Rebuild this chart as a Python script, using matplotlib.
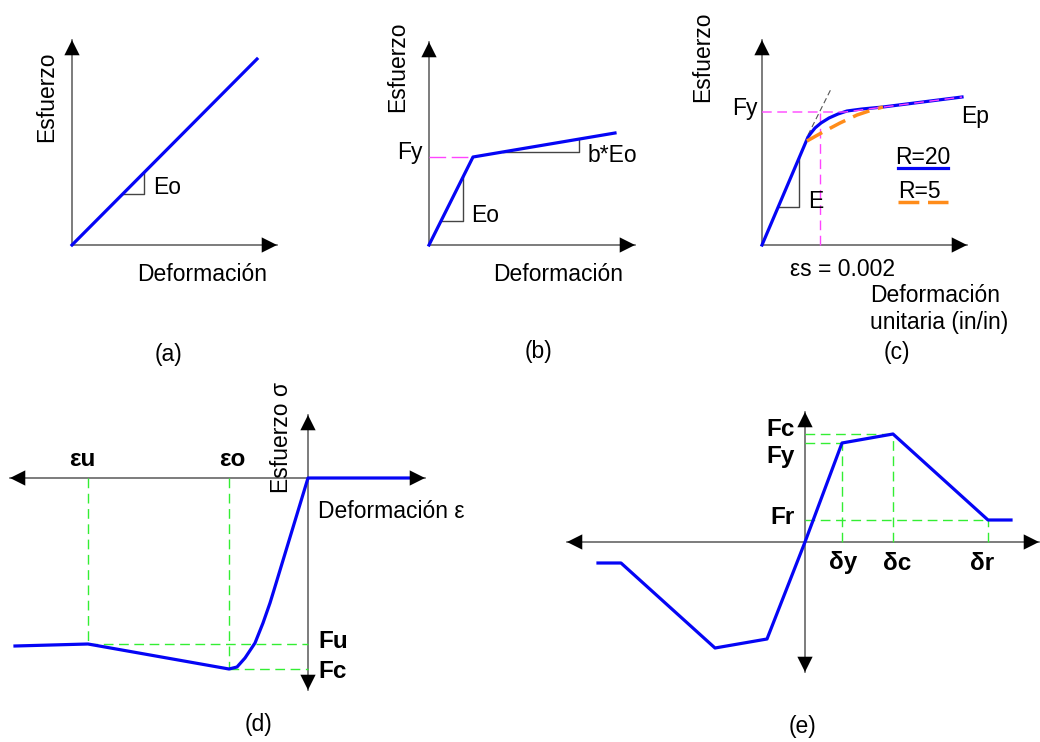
import matplotlib
matplotlib.use("Agg")
import matplotlib.pyplot as plt

plt.rcParams['font.family'] = ['Liberation Sans', 'DejaVu Sans']

W, H = 1040, 742
BLUE = '#0505f5'
GREEN = '#33ee33'
MAGENTA = '#ff44ff'
ORANGE = '#ff8c1a'
AXC = '#666666'
FS = 16.5
FSB = 17.5

# ---- panel (a): linear elastic
a_x = [0, 185]
a_y = [0, 186]
a_tri_x = [51, 72, 72]
a_tri_y = [51, 51, 72]

# ---- panel (b): bilinear
b_x = [0, 44, 186]
b_y = [0, 88, 112]
b_fy_x = [0, 44]
b_fy_y = [88, 88]
b_tri1_x = [12, 34, 34]
b_tri1_y = [24, 24, 68]
b_tri2_x = [74, 150, 150]
b_tri2_y = [93, 93, 106]

# ---- panel (c): Menegotto-Pinto, R=20 and R=5
c_r20_x = [0, 46, 49, 53, 59, 67, 76, 85, 100, 121, 200]
c_r20_y = [0, 108, 112, 117, 122, 127, 131, 134, 136, 138, 148]
c_r5_x = [45, 61, 78, 95, 110, 121]
c_r5_y = [104, 113, 122, 130, 135, 138]
c_env_x = [0, 83, 200]
c_env_y = [133, 133, 148]
c_eps_x = [58, 58]
c_eps_y = [0, 133]
c_tan_x = [46, 69]
c_tan_y = [110, 156]
c_tri_x = [16, 37, 37]
c_tri_y = [38, 38, 87]

# ---- panel (d): concrete
d_x = [-293, -220, -79, -71, -63, -53, -45, -38, -34, 0, 105]
d_y = [-168, -166, -191, -189, -180, -165, -145, -125, -112, 0, 0]
d_eu, d_eo = -220, -79
d_fu, d_fc = -166, -191

# ---- panel (e): backbone
e_x = [-207, -184, -90, -38, 0, 37, 88, 183, 206]
e_y = [-21, -21, -106, -97, 0, 99, 108, 22, 22]
e_dy, e_dc, e_dr = 37, 88, 183
e_fy, e_fc, e_fr = 99, 108, 22

# layout: origin in pixels and axis extents (left, right, bottom, top)
layout = {
    'a': dict(origin=(72, 245), ext=(0, 205, 0, 205)),
    'b': dict(origin=(429, 245), ext=(0, 206, 0, 203)),
    'c': dict(origin=(762, 245), ext=(0, 205, 0, 205)),
    'd': dict(origin=(308, 478), ext=(-298, 117, -212, 63)),
    'e': dict(origin=(805, 542), ext=(-238, 234, -130, 130)),
}

fig = plt.figure(figsize=(W / 100, H / 100), dpi=100)


def panel(key):
    ox, oy = layout[key]['origin']
    ax = fig.add_axes([0, 0, 1, 1])
    ax.set_xlim(-ox, W - ox)
    ax.set_ylim(oy - H, oy)
    ax.axis('off')
    l, r, b, t = layout[key]['ext']
    ax.plot([l, r], [0, 0], color=AXC, lw=1.2, zorder=1)
    ax.plot([0, 0], [b, t], color=AXC, lw=1.2, zorder=1)
    ends = [((r, 0), (r - 1, 0)), ((0, t), (0, t - 1))]
    if l < 0:
        ends.append(((l, 0), (l + 1, 0)))
    if b < 0:
        ends.append(((0, b), (0, b + 1)))
    for tip, tail in ends:
        ax.annotate('', xy=tip, xytext=tail,
                    arrowprops=dict(arrowstyle='-|>,head_length=1.0,head_width=0.5',
                                    mutation_scale=11, color='k', lw=0,
                                    shrinkA=0, shrinkB=0), zorder=5)
    return ax


def gdash(ax, xs, ys):
    ax.plot(xs, ys, color=GREEN, lw=1, dashes=(7, 4), zorder=2)


# (a)
ax = panel('a')
ax.plot(a_x, a_y, color=BLUE, lw=2.3, zorder=3)
ax.plot(a_tri_x, a_tri_y, color='#444444', lw=1, zorder=2)
ax.text(81, 57, 'Eo', fontsize=FS, va='center', ha='left')
ax.text(-25, 148, 'Esfuerzo', fontsize=FS, rotation=90, va='center', ha='center')
ax.text(130, -30, 'Deformación', fontsize=FS, va='center', ha='center')
ax.text(96, -110, '(a)', fontsize=FS, va='center', ha='center')

# (b)
ax = panel('b')
ax.plot(b_fy_x, b_fy_y, color=MAGENTA, lw=1, dashes=(12, 4), zorder=2)
ax.plot(b_x, b_y, color=BLUE, lw=2.3, zorder=3)
ax.plot(b_tri1_x, b_tri1_y, color='#444444', lw=1, zorder=2)
ax.plot(b_tri2_x, b_tri2_y, color='#444444', lw=1, zorder=2)
ax.text(-19, 93, 'Fy', fontsize=FS, va='center', ha='center')
ax.text(42, 29, 'Eo', fontsize=FS, va='center', ha='left')
ax.text(159, 89, 'b*Eo', fontsize=FS, va='center', ha='left')
ax.text(-31, 178, 'Esfuerzo', fontsize=FS, rotation=90, va='center', ha='center')
ax.text(129, -30, 'Deformación', fontsize=FS, va='center', ha='center')
ax.text(109, -107, '(b)', fontsize=FS, va='center', ha='center')

# (c)
ax = panel('c')
ax.plot(c_eps_x, c_eps_y, color=MAGENTA, lw=1, dashes=(7, 4), zorder=2)
ax.plot(c_tan_x, c_tan_y, color='#555555', lw=0.8, dashes=(5, 3), zorder=2)
ax.plot(c_tri_x, c_tri_y, color='#444444', lw=1, zorder=2)
ax.plot(c_r20_x, c_r20_y, color=BLUE, lw=2.3, zorder=3)
ax.plot(c_r5_x, c_r5_y, color=ORANGE, lw=2.5, dashes=(5, 2.5), zorder=4)
ax.plot(c_env_x, c_env_y, color=MAGENTA, lw=1, dashes=(7, 4), zorder=5)
ax.plot([136, 186], [77, 77], color=BLUE, lw=2.3)
ax.plot([136, 186], [43, 43], color=ORANGE, lw=2.5, dashes=(6, 2.5))
ax.text(-17, 137, 'Fy', fontsize=FS, va='center', ha='center')
ax.text(213, 128, 'Ep', fontsize=FS, va='center', ha='center')
ax.text(161, 88, 'R=20', fontsize=FS, va='center', ha='center')
ax.text(157, 54, 'R=5', fontsize=FS, va='center', ha='center')
ax.text(54, 43, 'E', fontsize=FS, va='center', ha='center')
ax.text(-59, 188, 'Esfuerzo', fontsize=FS, rotation=90, va='center', ha='center')
ax.text(80, -25, 'εs = 0.002', fontsize=FS, va='center', ha='center')
ax.text(108, -51, 'Deformación', fontsize=FS, va='center', ha='left')
ax.text(108, -78, 'unitaria (in/in)', fontsize=FS, va='center', ha='left')
ax.text(135, -108, '(c)', fontsize=FS, va='center', ha='center')

# (d)
ax = panel('d')
gdash(ax, [d_eu, d_eu], [0, d_fu])
gdash(ax, [d_eo, d_eo], [0, d_fc])
gdash(ax, [d_eu, 0], [d_fu, d_fu])
gdash(ax, [d_eo, 0], [d_fc, d_fc])
ax.plot(d_x, d_y, color=BLUE, lw=2.3, zorder=3)
ax.text(-226, 18, 'εu', fontsize=FSB, fontweight='bold', va='center', ha='center')
ax.text(-76, 18, 'εo', fontsize=FSB, fontweight='bold', va='center', ha='center')
ax.text(-26, 40, 'Esfuerzo σ', fontsize=FS, rotation=90, va='center', ha='center')
ax.text(10, -34, 'Deformación ε', fontsize=FS, va='center', ha='left')
ax.text(10, -164, 'Fu', fontsize=FSB, fontweight='bold', va='center', ha='left')
ax.text(10, -193, 'Fc', fontsize=FSB, fontweight='bold', va='center', ha='left')
ax.text(-50, -247, '(d)', fontsize=FS, va='center', ha='center')

# (e)
ax = panel('e')
gdash(ax, [0, e_dc], [e_fc, e_fc])
gdash(ax, [0, e_dy], [e_fy, e_fy])
gdash(ax, [0, e_dr], [e_fr, e_fr])
gdash(ax, [e_dy, e_dy], [0, e_fy])
gdash(ax, [e_dc, e_dc], [0, e_fc])
gdash(ax, [e_dr, e_dr], [0, e_fr])
ax.plot(e_x, e_y, color=BLUE, lw=2.3, zorder=3)
ax.text(-10, 112, 'Fc', fontsize=FSB, fontweight='bold', va='center', ha='right')
ax.text(-10, 86, 'Fy', fontsize=FSB, fontweight='bold', va='center', ha='right')
ax.text(-10, 25, 'Fr', fontsize=FSB, fontweight='bold', va='center', ha='right')
ax.text(38, -21, 'δy', fontsize=FSB, fontweight='bold', va='center', ha='center')
ax.text(92, -21, 'δc', fontsize=FSB, fontweight='bold', va='center', ha='center')
ax.text(177, -21, 'δr', fontsize=FSB, fontweight='bold', va='center', ha='center')
ax.text(-3, -185, '(e)', fontsize=FS, va='center', ha='center')

fig.savefig('out.png', dpi=100, facecolor='white')
